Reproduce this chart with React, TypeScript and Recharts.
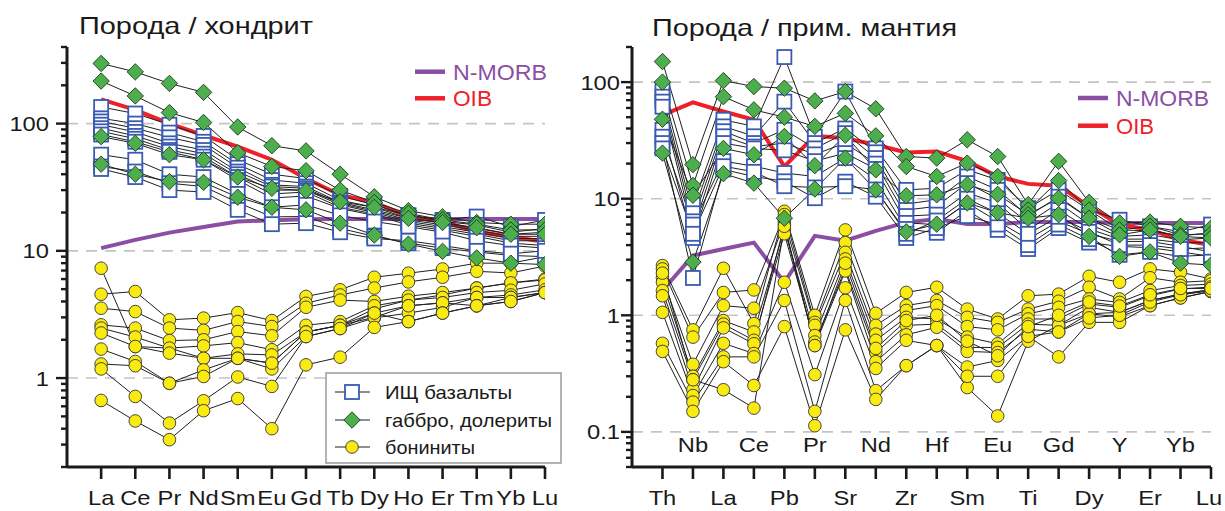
import React from 'react';
import { LineChart, Line, XAxis, YAxis, ReferenceLine } from 'recharts';

// ---------- Left panel: chondrite-normalised REE ----------
const REE_LABELS = ['La', 'Ce', 'Pr', 'Nd', 'Sm', 'Eu', 'Gd', 'Tb', 'Dy', 'Ho', 'Er', 'Tm', 'Yb', 'Lu'];
const REE_NMORB = [10.5, 12.2, 13.9, 15.4, 17.0, 17.4, 17.7, 17.8, 17.8, 17.8, 17.8, 17.8, 17.8, 17.8];
const REE_OIB = [155, 128, 100, 81, 66, 52, 37, 27.5, 24, 18.6, 17, 14.1, 12.9, 11.8];
const REE_BASALTS = [
  [135, 120, 98, 80, 52, 40, 37, 27, 23, 19, 17.5, 18.6, 15.5, 17.5],
  [110, 100, 85, 72, 48, 36, 34, 25, 22, 19, 17, 16, 14, 15],
  [104, 92, 78, 68, 45, 33, 32, 24, 21, 18, 16.5, 15, 13.5, 14],
  [98, 86, 70, 62, 42, 32, 31, 23.5, 20.5, 17.5, 16, 14.5, 13, 13],
  [92, 80, 66, 58, 40, 30, 30, 23, 20, 17, 15.5, 14, 12.5, 12.5],
  [87, 76, 62, 55, 38, 28, 29, 22, 19.5, 16.5, 15, 13.5, 12, 12],
  [82, 72, 60, 52, 36, 26, 27, 21.5, 19, 16, 14.5, 13, 11.5, 11],
  [57, 52, 40, 38, 28, 22, 23, 19, 17, 15.5, 14, 12, 11, 10.5],
  [46, 42, 34, 32, 24, 18.5, 18.6, 15, 13, 11.5, 10.5, 9.8, 9.2, 9.0],
  [44, 38, 30, 29, 21, 16.2, 16.5, 14, 12.5, 12, 11, 10, 9.5, 10],
];
const REE_GABBRO = [
  [297, 255, 207, 176, 94, 67, 61, 40, 26.6, 20.7, 18.5, 16.7, 16.2, 16.2],
  [216, 165, 122, 102, 59, 46, 42.6, 30, 24, 19.7, 17.5, 16.2, 14.6, 14.6],
  [79, 70, 57, 52, 38, 31, 29.7, 24.3, 22, 18, 16.7, 15.2, 13.5, 13.5],
  [48, 40, 35, 34.5, 26.4, 22, 21, 16.5, 13.3, 11.3, 9.9, 8.8, 8.0, 7.8],
];
const REE_BONINITES = [
  [7.3, 1.77, 1.72, 1.43, 1.43, 1.31, 2.3, 2.6, 3.5, 4.1, 4.5, 5.1, 5.6, 6.0],
  [4.56, 4.79, 2.87, 2.96, 3.27, 2.83, 4.38, 4.94, 6.2, 6.67, 7.2, 8.0, 8.0, 9.0],
  [3.54, 3.33, 2.47, 2.37, 2.78, 2.54, 3.87, 4.5, 5.1, 5.7, 6.2, 6.9, 6.7, 7.6],
  [2.62, 2.47, 1.97, 2.0, 2.32, 2.15, 3.6, 4.1, 4.0, 4.4, 4.7, 5.1, 5.6, 5.9],
  [2.47, 2.1, 1.72, 1.79, 1.9, 1.67, 2.6, 2.78, 3.7, 4.1, 4.3, 4.7, 4.9, 5.5],
  [2.26, 1.77, 1.57, 1.43, 1.55, 1.52, 2.3, 2.6, 3.24, 3.7, 3.9, 4.3, 4.5, 4.94],
  [1.69, 1.35, 0.91, 1.16, 1.43, 1.18, 2.12, 2.45, 2.97, 3.24, 3.6, 4.3, 4.3, 4.7],
  [1.29, 1.25, 0.91, 1.03, 1.43, 1.31, 2.3, 2.6, 3.0, 3.7, 3.9, 3.7, 4.0, 4.7],
  [1.18, 0.717, 0.443, 0.663, 1.02, 0.86, 2.12, 2.45, 3.24, 2.78, 3.24, 3.7, 4.3, 4.7],
  [0.667, 0.46, 0.328, 0.554, 0.69, 0.40, 1.27, 1.46, 2.5, 2.78, 3.24, 3.7, 4.0, 4.7],
];
const REE_Y_TICKS = [0.2, 0.3, 0.4, 0.5, 0.6, 0.7, 0.8, 0.9, 1, 2, 3, 4, 5, 6, 7, 8, 9, 10, 20, 30, 40, 50, 60, 70, 80, 90, 100, 200, 300, 400];
const REE_Y_MAJOR = [1, 10, 100];
const REE_Y_LABELS = ['1', '10', '100'];

// ---------- Right panel: primitive-mantle-normalised spider ----------
const PM_LABELS = ['Th', 'Nb', 'La', 'Ce', 'Pb', 'Pr', 'Sr', 'Nd', 'Zr', 'Hf', 'Sm', 'Eu', 'Ti', 'Gd', 'Dy', 'Y', 'Er', 'Yb', 'Lu'];
const PM_NMORB = [1.63, 3.25, 3.7, 4.2, 1.92, 4.8, 4.37, 5.3, 6.26, 6.7, 6.07, 6.07, 6.3, 6.3, 6.3, 6.2, 6.2, 6.2, 6.2];
const PM_OIB = [52, 67, 56, 47.5, 18.9, 34.7, 33, 29, 24.9, 25.4, 21, 15.5, 13.4, 12.9, 8.6, 6.0, 5.4, 4.45, 4.0];
const PM_BASALTS = [
  [86, 8.9, 47.5, 41.7, 164, 34, 83, 27, 11.9, 12.3, 17.7, 14.5, 8.3, 11.9, 8.0, 6.6, 5.8, 5.2, 6.0],
  [75, 7.5, 41.7, 34.3, 68, 30, 40, 25, 9.0, 9.8, 15.5, 11.9, 7.1, 10.4, 6.8, 5.4, 5.3, 4.8, 5.1],
  [68, 6.4, 37.9, 30, 39, 27, 36.5, 22.3, 8.0, 8.6, 13.6, 10.0, 6.2, 9.2, 6.0, 4.75, 4.9, 4.45, 4.6],
  [61.5, 5.4, 34.3, 28, 30, 24, 30, 20, 7.1, 7.3, 11.2, 9.2, 5.4, 8.0, 5.5, 4.5, 4.5, 4.2, 4.2],
  [39, 4.6, 30, 27, 26, 21, 24.6, 18, 6.2, 6.0, 9.2, 6.4, 4.5, 6.4, 5.0, 4.3, 4.3, 3.9, 3.5],
  [34, 6.0, 21, 19, 16.6, 15.5, 22.3, 14.6, 5.5, 5.1, 8.0, 5.4, 3.7, 5.6, 4.2, 3.9, 3.8, 3.5, 3.2],
  [30, 2.09, 17.8, 15.5, 14.1, 10.1, 14, 10.4, 4.6, 5.6, 7.1, 6.0, 4.0, 6.0, 4.5, 3.3, 3.5, 3.2, 3.3],
  [27, 5.0, 19, 17, 12.8, 12.5, 12.8, 12, 5.0, 6.5, 10, 7.5, 5.0, 7.0, 5.2, 4.0, 4.0, 3.7, 3.8],
];
const PM_GABBRO = [
  [150, 19.6, 103, 91.6, 88.7, 69, 83, 59, 23, 22.3, 32, 23, 8.9, 20.9, 9.3, 6.2, 6.3, 5.8, 5.6],
  [100, 13, 75, 57.8, 50, 41.7, 54, 34.6, 18.9, 15.5, 20.2, 15.5, 8.0, 14.3, 8.0, 5.4, 5.8, 4.9, 5.0],
  [48, 10.7, 27, 23.8, 34.2, 19.2, 35, 17.7, 10.6, 10.8, 13.2, 10.9, 7.3, 10.1, 6.8, 4.9, 5.4, 4.75, 4.6],
  [24.6, 2.86, 16.4, 13.6, 6.8, 12.1, 22.3, 11.9, 5.2, 6.05, 9.2, 7.6, 6.8, 7.3, 4.75, 3.2, 3.5, 2.8, 2.7],
];
const PM_BONINITES = [
  [2.67, 0.75, 2.53, 0.85, 7.8, 1.0, 5.4, 1.04, 1.57, 1.74, 1.13, 0.93, 1.47, 1.52, 2.16, 1.92, 2.5, 2.34, 2.05],
  [2.5, 0.65, 1.57, 1.65, 7.3, 0.87, 4.2, 0.82, 1.21, 1.34, 0.96, 0.87, 1.13, 1.32, 1.74, 1.38, 2.1, 1.92, 1.98],
  [2.1, 0.38, 1.21, 1.15, 6.4, 0.82, 3.47, 0.69, 1.10, 1.21, 0.80, 0.75, 1.03, 1.17, 1.38, 1.29, 1.63, 1.8, 1.85],
  [1.92, 0.30, 0.90, 0.72, 5.5, 0.67, 3.04, 0.61, 0.96, 0.93, 0.65, 0.57, 0.93, 0.93, 1.25, 1.17, 1.47, 1.68, 1.75],
  [1.63, 0.28, 0.84, 0.61, 5.0, 0.59, 2.5, 0.48, 0.82, 0.84, 0.53, 0.53, 0.84, 0.82, 1.17, 1.06, 1.34, 1.52, 1.66],
  [1.47, 0.23, 0.78, 0.57, 6.0, 0.55, 2.4, 0.40, 0.68, 0.79, 0.49, 0.48, 0.76, 0.72, 1.03, 0.97, 1.21, 1.41, 1.6],
  [1.06, 0.205, 0.575, 0.47, 1.92, 0.31, 1.72, 0.35, 0.61, 0.55, 0.36, 0.41, 0.66, 0.44, 0.87, 0.87, 1.21, 1.41, 1.6],
  [0.575, 0.18, 0.44, 0.44, 1.34, 0.15, 1.34, 0.226, 0.37, 0.55, 0.24, 0.137, 0.60, 0.82, 1.03, 1.06, 1.34, 1.52, 1.66],
  [0.49, 0.15, 0.40, 0.25, 0.80, 0.113, 0.75, 0.19, 0.37, 0.55, 0.30, 0.30, 0.66, 0.72, 0.95, 1.0, 1.3, 1.5, 1.62],
  [2.3, 0.28, 0.23, 0.16, 5.8, 0.55, 2.8, 0.52, 0.90, 1.0, 0.6, 0.45, 0.8, 1.0, 1.3, 1.2, 1.5, 1.7, 1.7],
];
const PM_Y_TICKS = [0.05, 0.06, 0.07, 0.08, 0.09, 0.1, 0.2, 0.3, 0.4, 0.5, 0.6, 0.7, 0.8, 0.9, 1, 2, 3, 4, 5, 6, 7, 8, 9, 10, 20, 30, 40, 50, 60, 70, 80, 90, 100, 200];
const PM_Y_MAJOR = [0.1, 1, 10, 100];
const PM_Y_LABELS = ['0.1', '1', '10', '100'];

// ---------- styles ----------
const FONT = "'Liberation Sans', Arial, sans-serif";
const AXIS = '#1a1a1a';
const PURPLE = '#8a4fa3';
const RED = '#ee2028';
const BLUE = '#3a5bb3';
const GREEN = '#4cae4c';
const YELLOW = '#f9ea12';
const GRID = '#c4c4c4';

type Row = Record<string, number>;

function buildRows(n: number, nmorb: number[], oib: number[], b: number[][], g: number[][], y: number[][]): Row[] {
  const rows: Row[] = [];
  for (let i = 0; i < n; i++) {
    const r: Row = { x: i, nmorb: nmorb[i], oib: oib[i] };
    b.forEach((s, k) => (r['b' + k] = s[i]));
    g.forEach((s, k) => (r['g' + k] = s[i]));
    y.forEach((s, k) => (r['y' + k] = s[i]));
    rows.push(r);
  }
  return rows;
}

const squareDot = (p: any) => {
  if (p.cx == null || p.cy == null) return <g key={`sq-${p.dataKey}-${p.index}`} />;
  return <rect key={`sq-${p.dataKey}-${p.index}`} x={p.cx - 7} y={p.cy - 7} width={14} height={14} fill="#fff" stroke={BLUE} strokeWidth={1.8} />;
};
const diamondDot = (p: any) => {
  if (p.cx == null || p.cy == null) return <g key={`dm-${p.dataKey}-${p.index}`} />;
  const r = 8.2;
  return (
    <polygon
      key={`dm-${p.dataKey}-${p.index}`}
      points={`${p.cx},${p.cy - r} ${p.cx + r},${p.cy} ${p.cx},${p.cy + r} ${p.cx - r},${p.cy}`}
      fill={GREEN}
      stroke="#1d3a1d"
      strokeWidth={0.9}
    />
  );
};
const circleDot = (p: any) => {
  if (p.cx == null || p.cy == null) return <g key={`ci-${p.dataKey}-${p.index}`} />;
  return <circle key={`ci-${p.dataKey}-${p.index}`} cx={p.cx} cy={p.cy} r={6.3} fill={YELLOW} stroke="#333" strokeWidth={0.9} />;
};

function seriesLines(prefix: string, n: number) {
  return Array.from({ length: n }, (_, i) => (
    <Line
      key={`${prefix}-line-${i}`}
      dataKey={`${prefix}${i}`}
      type="linear"
      stroke="#202020"
      strokeWidth={1}
      dot={false}
      activeDot={false}
      isAnimationActive={false}
    />
  ));
}
function seriesMarkers(prefix: string, n: number, dot: (p: any) => any) {
  return Array.from({ length: n }, (_, i) => (
    <Line
      key={`${prefix}-mk-${i}`}
      dataKey={`${prefix}${i}`}
      type="linear"
      stroke="none"
      strokeWidth={0}
      dot={dot}
      activeDot={false}
      isAnimationActive={false}
    />
  ));
}

function makeYTick(major: number[], labels: string[], gap: number) {
  return (props: any) => {
    const { x, y, payload } = props;
    const idx = major.findIndex((m) => Math.abs(m - payload.value) < 1e-9);
    const isMajor = idx >= 0;
    return (
      <g>
        <line x1={x - (isMajor ? 11 : 6)} x2={x} y1={y} y2={y} stroke={AXIS} strokeWidth={2.4} />
        {isMajor && (
          <text
            transform={`translate(${x - gap},${y}) scale(1.13,1)`}
            x={0}
            y={0}
            dy="0.36em"
            textAnchor="end"
            fontSize={21}
            fontFamily={FONT}
            fill="#1a1a1a"
          >
            {labels[idx]}
          </text>
        )}
      </g>
    );
  };
}

function makeXTick(labels: string[], alternate: boolean) {
  return (props: any) => {
    const { x, y, payload } = props;
    const i = Math.round(payload.value);
    const label = labels[i];
    const inner = alternate && i % 2 === 1;
    const ty = inner ? y - 23 : y + 30.5;
    const tx = alternate && i === labels.length - 1 ? x - 2 : x;
    return (
      <g>
        <line x1={x} x2={x} y1={y} y2={y + 12} stroke={AXIS} strokeWidth={2.6} />
        <text
          transform={`translate(${tx},${ty}) scale(1.13,1)`}
          x={0}
          y={0}
          dy="0.36em"
          textAnchor="middle"
          fontSize={21}
          fontFamily={FONT}
          fill="#1a1a1a"
        >
          {label}
        </text>
      </g>
    );
  };
}

const reeRows = buildRows(REE_LABELS.length, REE_NMORB, REE_OIB, REE_BASALTS, REE_GABBRO, REE_BONINITES);
const pmRows = buildRows(PM_LABELS.length, PM_NMORB, PM_OIB, PM_BASALTS, PM_GABBRO, PM_BONINITES);

function Panel(props: {
  width: number;
  rows: Row[];
  n: number;
  yAxisWidth: number;
  right: number;
  domain: [number, number];
  yTicks: number[];
  major: number[];
  yLabels: string[];
  gap: number;
  xLabels: string[];
  alternate: boolean;
  nb: number;
  ng: number;
  ny: number;
}) {
  const p = props;
  return (
    <LineChart width={p.width} height={511} data={p.rows} margin={{ top: 47, right: p.right, bottom: 0, left: 0 }}>
      <XAxis
        dataKey="x"
        type="number"
        domain={[-1, p.n - 1]}
        ticks={Array.from({ length: p.n }, (_, i) => i)}
        interval={0}
        allowDataOverflow
        height={44}
        tickSize={0}
        tickMargin={0}
        tickLine={false}
        axisLine={{ stroke: AXIS, strokeWidth: 3 }}
        tick={makeXTick(p.xLabels, p.alternate)}
      />
      <YAxis
        type="number"
        scale="log"
        domain={p.domain}
        allowDataOverflow
        ticks={p.yTicks}
        interval={0}
        width={p.yAxisWidth}
        tickSize={0}
        tickMargin={0}
        tickLine={false}
        axisLine={{ stroke: AXIS, strokeWidth: 3 }}
        tick={makeYTick(p.major, p.yLabels, p.gap)}
      />
      {p.major.map((m) => (
        <ReferenceLine key={`grid-${m}`} y={m} stroke={GRID} strokeWidth={1.6} strokeDasharray="11 8" ifOverflow="hidden" />
      ))}
      <Line dataKey="nmorb" type="linear" stroke={PURPLE} strokeWidth={4} dot={false} activeDot={false} isAnimationActive={false} />
      <Line dataKey="oib" type="linear" stroke={RED} strokeWidth={4} dot={false} activeDot={false} isAnimationActive={false} />
      {seriesLines('y', p.ny)}
      {seriesLines('b', p.nb)}
      {seriesLines('g', p.ng)}
      {seriesMarkers('y', p.ny, circleDot)}
      {seriesMarkers('b', p.nb, squareDot)}
      {seriesMarkers('g', p.ng, diamondDot)}
    </LineChart>
  );
}

function RefLegend({ x, y1, y2, w1, w2 }: { x: number; y1: number; y2: number; w1: number; w2: number }) {
  return (
    <g>
      <line x1={x} x2={x + 30} y1={y1} y2={y1} stroke={PURPLE} strokeWidth={4.5} />
      <text x={x + 38} y={y1} dy="0.36em" fontSize={22} fontFamily={FONT} fill={PURPLE} textLength={w1} lengthAdjust="spacingAndGlyphs">
        N-MORB
      </text>
      <line x1={x} x2={x + 30} y1={y2} y2={y2} stroke={RED} strokeWidth={4.5} />
      <text x={x + 38} y={y2} dy="0.36em" fontSize={22} fontFamily={FONT} fill={RED} textLength={w2} lengthAdjust="spacingAndGlyphs">
        OIB
      </text>
    </g>
  );
}

export default function App() {
  const legendRows = [
    { y: 392, label: 'ИЩ базальты', w: 127, kind: 'sq' },
    { y: 420, label: 'габбро, долериты', w: 167, kind: 'dm' },
    { y: 447, label: 'бониниты', w: 90, kind: 'ci' },
  ];
  return (
    <div style={{ position: 'absolute', left: 0, top: 0, width: 1225, height: 511, background: '#fff', overflow: 'hidden' }}>
      <div style={{ position: 'absolute', left: 0, top: 0 }}>
        <Panel
          width={600}
          rows={reeRows}
          n={REE_LABELS.length}
          yAxisWidth={67}
          right={55}
          domain={[0.2, 400]}
          yTicks={REE_Y_TICKS}
          major={REE_Y_MAJOR}
          yLabels={REE_Y_LABELS}
          gap={18}
          xLabels={REE_LABELS}
          alternate={false}
          nb={REE_BASALTS.length}
          ng={REE_GABBRO.length}
          ny={REE_BONINITES.length}
        />
      </div>
      <div style={{ position: 'absolute', left: 560, top: 0 }}>
        <Panel
          width={665}
          rows={pmRows}
          n={PM_LABELS.length}
          yAxisWidth={72}
          right={14}
          domain={[0.05, 200]}
          yTicks={PM_Y_TICKS}
          major={PM_Y_MAJOR}
          yLabels={PM_Y_LABELS}
          gap={12}
          xLabels={PM_LABELS}
          alternate={true}
          nb={PM_BASALTS.length}
          ng={PM_GABBRO.length}
          ny={PM_BONINITES.length}
        />
      </div>
      <svg width={1225} height={511} style={{ position: 'absolute', left: 0, top: 0, pointerEvents: 'none' }}>
        <text x={79} y={34} fontSize={24} fontFamily={FONT} fill="#1a1a1a" textLength={234} lengthAdjust="spacingAndGlyphs">
          Порода / хондрит
        </text>
        <text x={652} y={35.5} fontSize={24} fontFamily={FONT} fill="#1a1a1a" textLength={305} lengthAdjust="spacingAndGlyphs">
          Порода / прим. мантия
        </text>
        <RefLegend x={415} y1={71.7} y2={98.3} w1={94} w2={39} />
        <RefLegend x={1078} y1={98} y2={125.7} w1={93} w2={38} />
        <rect x={326} y={373} width={235} height={90} fill="#fff" stroke="#9a9a9a" strokeWidth={1.5} />
        {legendRows.map((r) => (
          <g key={r.label}>
            <line x1={335} x2={370} y1={r.y} y2={r.y} stroke="#202020" strokeWidth={1} />
            {r.kind === 'sq' && <rect x={345} y={r.y - 7} width={14} height={14} fill="#fff" stroke={BLUE} strokeWidth={1.8} />}
            {r.kind === 'dm' && (
              <polygon points={`352,${r.y - 8.2} 360.2,${r.y} 352,${r.y + 8.2} 343.8,${r.y}`} fill={GREEN} stroke="#1d3a1d" strokeWidth={0.9} />
            )}
            {r.kind === 'ci' && <circle cx={352} cy={r.y} r={6.3} fill={YELLOW} stroke="#333" strokeWidth={0.9} />}
            <text x={385} y={r.y} dy="0.36em" fontSize={19} fontFamily={FONT} fill="#1a1a1a" textLength={r.w} lengthAdjust="spacingAndGlyphs">
              {r.label}
            </text>
          </g>
        ))}
      </svg>
    </div>
  );
}
